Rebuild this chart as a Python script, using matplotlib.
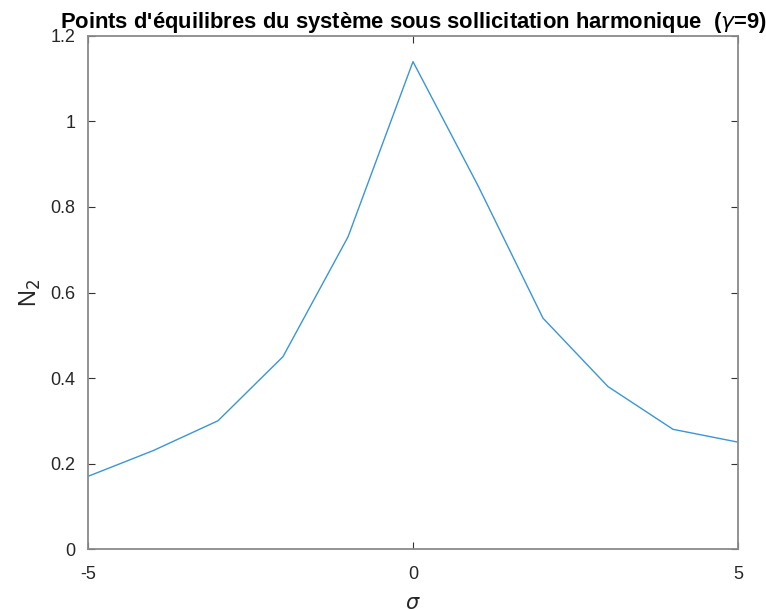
import matplotlib.pyplot as plt

# valeurs de sigma et amplitude N2 aux points d'equilibre
sigma = [-5, -4, -3, -2, -1, 0, 1, 2, 3, 4, 5]
N2 = [0.17, 0.23, 0.30, 0.45, 0.73, 1.14, 0.85, 0.54, 0.38, 0.28, 0.25]

plt.rcParams['font.family'] = ['Liberation Sans', 'DejaVu Sans']
plt.rcParams['mathtext.fontset'] = 'dejavusans'
plt.rcParams['axes.unicode_minus'] = False

fig = plt.figure(figsize=(7.66, 6.09), dpi=100)
ax = fig.add_axes([0.1149, 0.0985, 0.8485, 0.8424])

ax.plot(sigma, N2, color='#3a96d6', lw=1.0)

ax.set_xlim(-5, 5)
ax.set_ylim(0, 1.2)
ax.set_xticks([-5, 0, 5])
ax.set_yticks([0, 0.2, 0.4, 0.6, 0.8, 1.0, 1.2])
ax.set_yticklabels(['0', '0.2', '0.4', '0.6', '0.8', '1', '1.2'])

for s in ax.spines.values():
    s.set_color('#8a8a8a')
    s.set_linewidth(1.3)
ax.tick_params(direction='in', length=5, width=0.8, color='#333333',
               top=True, right=True, labelsize=13, labelcolor='#262626')
ax.tick_params(axis='y', pad=9)
ax.tick_params(axis='x', pad=12)

ax.set_ylabel('N$_2$', fontsize=17, color='#262626', labelpad=5)
ax.set_xlabel(r'$\sigma$', fontsize=15, color='#262626', labelpad=8)

ax.set_title("Points d'équilibres du système sous sollicitation harmonique  ($\\gamma$=9)",
             fontsize=15.8, fontweight='bold', color='black', pad=6)

fig.savefig('out.png', dpi=100)
